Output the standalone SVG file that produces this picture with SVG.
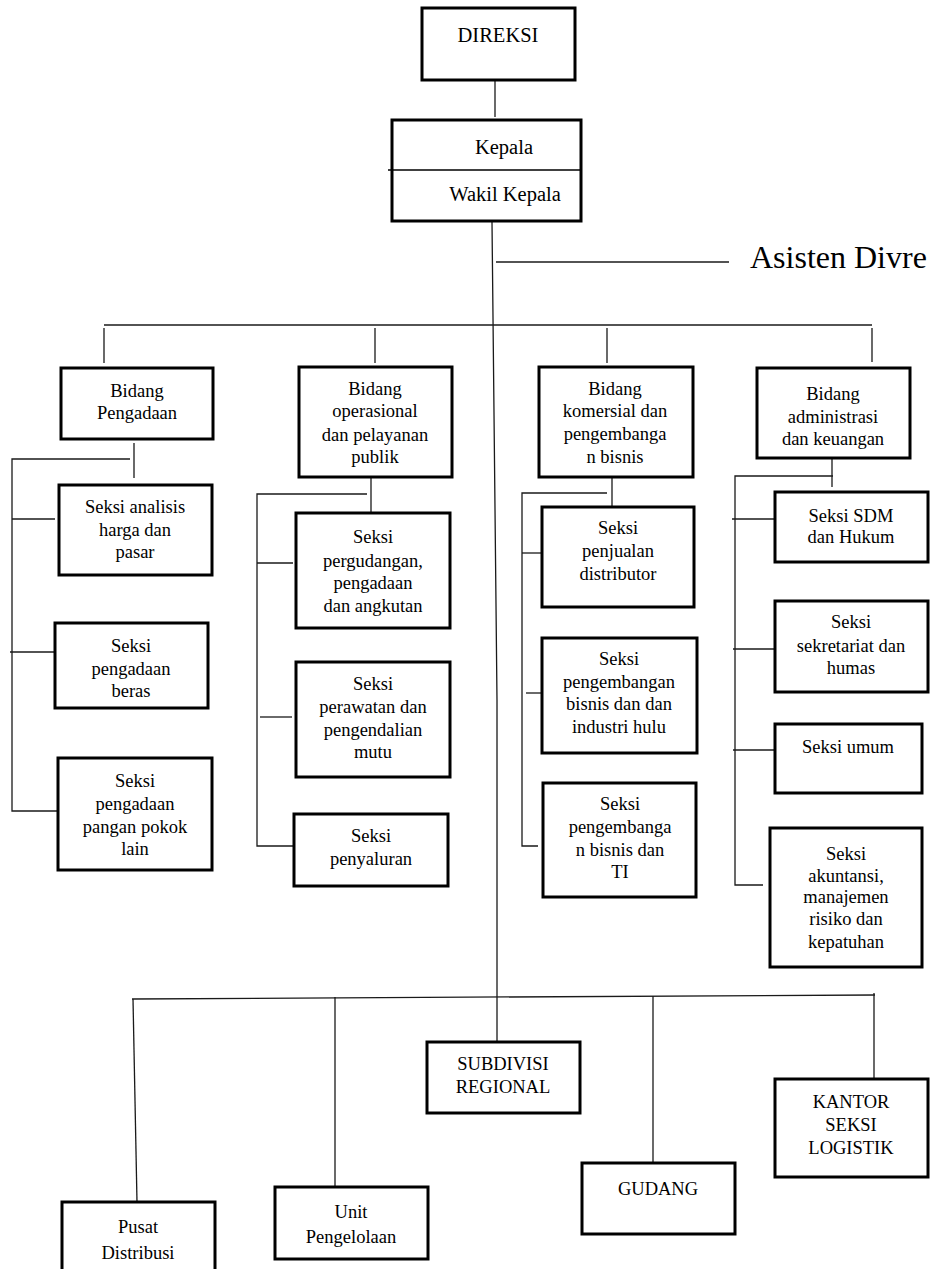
<svg xmlns="http://www.w3.org/2000/svg" width="932" height="1269" viewBox="0 0 932 1269">
<style>
rect{fill:#fff;stroke:#000;stroke-width:3}
.c line,.c polyline{stroke:#1a1a1a;stroke-width:1.3;fill:none}
text{font-family:"Liberation Serif","Times New Roman",serif;font-size:18.5px;fill:#000;text-anchor:middle}
.big{font-size:20.5px}
</style>
<rect x="0" y="0" width="932" height="1269" style="fill:#fff;stroke:none"/>
<g class="c" id="connectors">
<line x1="495" y1="80" x2="495" y2="117"/>
<polyline points="492,222 497,700 497,1042"/>
<line x1="496" y1="262" x2="729" y2="262"/>
<line x1="104" y1="325" x2="872" y2="325"/>
<line x1="104" y1="328" x2="104" y2="363"/>
<line x1="375" y1="328" x2="375" y2="363"/>
<line x1="607" y1="328" x2="607" y2="363"/>
<line x1="872" y1="328" x2="872" y2="362"/>
<line x1="134" y1="443" x2="134" y2="478"/>
<polyline points="130,459 12,459 12,811 58,811"/>
<line x1="12" y1="519" x2="55" y2="519"/>
<line x1="10" y1="652" x2="55" y2="652"/>
<line x1="371" y1="477" x2="371" y2="513"/>
<polyline points="367,494 257,494 257,846 293,846"/>
<line x1="257" y1="563" x2="293" y2="563"/>
<line x1="260" y1="717" x2="292" y2="717"/>
<line x1="612" y1="477" x2="612" y2="507"/>
<polyline points="607,493 522,493 522,846 538,846"/>
<line x1="522" y1="553" x2="542" y2="553"/>
<line x1="526" y1="693" x2="542" y2="693"/>
<line x1="832" y1="458" x2="832" y2="487"/>
<polyline points="833,476 735,476 735,885 763,885"/>
<line x1="732" y1="519" x2="775" y2="519"/>
<line x1="733" y1="649" x2="775" y2="649"/>
<line x1="733" y1="750" x2="777" y2="750"/>
<line x1="132" y1="999" x2="875" y2="995"/>
<line x1="133" y1="999" x2="137" y2="1202"/>
<line x1="335" y1="997" x2="335" y2="1187"/>
<line x1="653" y1="996" x2="653" y2="1163"/>
<line x1="874" y1="993" x2="874" y2="1079"/>
</g>
<g id="direksi"><rect x="422" y="8" width="153" height="72"/><text class="big" x="498" y="42">DIREKSI</text></g>
<g id="kepala"><rect x="392" y="120" width="189" height="101"/><line x1="388" y1="170" x2="581" y2="170" stroke="#000" stroke-width="1.3"/><text class="big" x="504" y="154">Kepala</text><text class="big" x="505" y="201">Wakil Kepala</text></g>
<g id="asisten"><text x="750" y="268" style="font-size:32px;text-anchor:start">Asisten Divre</text></g>
<g id="bidang-pengadaan"><rect x="61" y="368" width="152" height="71"/><text x="137" y="397">Bidang</text><text x="137" y="419">Pengadaan</text></g>
<g id="bidang-operasional"><rect x="299" y="367" width="153" height="110"/><text x="375" y="395">Bidang</text><text x="375" y="417">operasional</text><text x="375" y="441">dan pelayanan</text><text x="375" y="463">publik</text></g>
<g id="bidang-komersial"><rect x="539" y="367" width="154" height="110"/><text x="615" y="395">Bidang</text><text x="615" y="417">komersial dan</text><text x="615" y="440">pengembanga</text><text x="615" y="463">n bisnis</text></g>
<g id="bidang-administrasi"><rect x="757" y="368" width="153" height="90"/><text x="833" y="400">Bidang</text><text x="833" y="423">administrasi</text><text x="833" y="445">dan keuangan</text></g>
<g id="seksi-analisis"><rect x="59" y="485" width="153" height="90"/><text x="135" y="513">Seksi analisis</text><text x="135" y="536">harga dan</text><text x="135" y="558">pasar</text></g>
<g id="seksi-beras"><rect x="55" y="623" width="153" height="85"/><text x="131" y="652">Seksi</text><text x="131" y="675">pengadaan</text><text x="131" y="697">beras</text></g>
<g id="seksi-pangan"><rect x="58" y="758" width="154" height="112"/><text x="135" y="787">Seksi</text><text x="135" y="810">pengadaan</text><text x="135" y="833">pangan pokok</text><text x="135" y="855">lain</text></g>
<g id="seksi-pergudangan"><rect x="296" y="513" width="154" height="115"/><text x="373" y="543">Seksi</text><text x="373" y="567">pergudangan,</text><text x="373" y="589">pengadaan</text><text x="373" y="612">dan angkutan</text></g>
<g id="seksi-perawatan"><rect x="296" y="662" width="154" height="115"/><text x="373" y="690">Seksi</text><text x="373" y="713">perawatan dan</text><text x="373" y="736">pengendalian</text><text x="373" y="758">mutu</text></g>
<g id="seksi-penyaluran"><rect x="294" y="814" width="154" height="72"/><text x="371" y="842">Seksi</text><text x="371" y="865">penyaluran</text></g>
<g id="seksi-penjualan"><rect x="542" y="507" width="152" height="100"/><text x="618" y="534">Seksi</text><text x="618" y="557">penjualan</text><text x="618" y="580">distributor</text></g>
<g id="seksi-pengembangan-hulu"><rect x="542" y="638" width="155" height="115"/><text x="619" y="665">Seksi</text><text x="619" y="688">pengembangan</text><text x="619" y="710">bisnis dan dan</text><text x="619" y="733">industri hulu</text></g>
<g id="seksi-pengembangan-ti"><rect x="543" y="783" width="153" height="114"/><text x="620" y="810">Seksi</text><text x="620" y="833">pengembanga</text><text x="620" y="856">n bisnis dan</text><text x="620" y="878">TI</text></g>
<g id="seksi-sdm"><rect x="775" y="492" width="153" height="70"/><text x="851" y="522">Seksi SDM</text><text x="851" y="543">dan Hukum</text></g>
<g id="seksi-sekretariat"><rect x="775" y="601" width="153" height="91"/><text x="851" y="628">Seksi</text><text x="851" y="652">sekretariat dan</text><text x="851" y="674">humas</text></g>
<g id="seksi-umum"><rect x="775" y="724" width="147" height="69"/><text x="848" y="753">Seksi umum</text></g>
<g id="seksi-akuntansi"><rect x="770" y="828" width="152" height="139"/><text x="846" y="860">Seksi</text><text x="846" y="882">akuntansi,</text><text x="846" y="903">manajemen</text><text x="846" y="925">risiko dan</text><text x="846" y="948">kepatuhan</text></g>
<g id="subdivisi"><rect x="427" y="1042" width="153" height="71"/><text x="503" y="1070">SUBDIVISI</text><text x="503" y="1093">REGIONAL</text></g>
<g id="pusat"><rect x="62" y="1202" width="153" height="80"/><text x="138" y="1233">Pusat</text><text x="138" y="1259">Distribusi</text></g>
<g id="unit"><rect x="275" y="1187" width="153" height="72"/><text x="351" y="1218">Unit</text><text x="351" y="1243">Pengelolaan</text></g>
<g id="gudang"><rect x="582" y="1163" width="153" height="71"/><text x="658" y="1195">GUDANG</text></g>
<g id="kantor"><rect x="775" y="1079" width="153" height="98"/><text x="851" y="1108">KANTOR</text><text x="851" y="1131">SEKSI</text><text x="851" y="1154">LOGISTIK</text></g>
</svg>
